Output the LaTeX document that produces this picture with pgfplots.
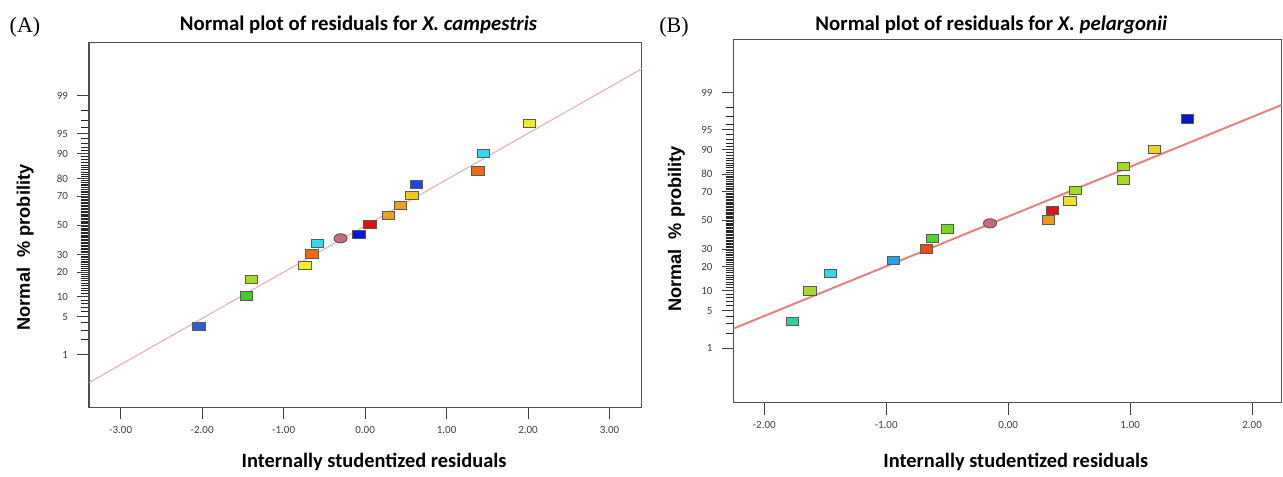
\documentclass[border=0pt]{standalone}
\usepackage{fontspec}
\setmainfont{Carlito}
\newfontfamily\arialfont{Liberation Sans}
\newfontfamily\seriffont{Liberation Serif}
\usepackage{pgfplots}
\usepackage{pgfplotstable}
\pgfplotsset{compat=1.18}

\pgfdeclareplotmark{rrect}{%
  \pgfsetcornersarced{\pgfpoint{1.3pt}{1.3pt}}%
  \pgfpathrectanglecorners{\pgfpoint{-3.1pt}{-2.1pt}}{\pgfpoint{3.1pt}{2.1pt}}%
  \pgfusepathqfillstroke}
\pgfdeclareplotmark{oval}{%
  \pgfpathellipse{\pgfpointorigin}{\pgfpoint{3.3pt}{0pt}}{\pgfpoint{0pt}{2.3pt}}%
  \pgfusepathqfillstroke}

\definecolor{cBlue}{HTML}{2A5FD8}
\definecolor{cDBlue}{HTML}{0818D8}
\definecolor{cMBlue}{HTML}{1848E0}
\definecolor{cGreen}{HTML}{3CCC2C}
\definecolor{cYG}{HTML}{A8D828}
\definecolor{cYellow}{HTML}{F0F020}
\definecolor{cOrRed}{HTML}{F06A10}
\definecolor{cCyan}{HTML}{30D8F0}
\definecolor{cPink}{HTML}{C86878}
\definecolor{cRed}{HTML}{E01010}
\definecolor{cOrange}{HTML}{F0A018}
\definecolor{cGold}{HTML}{F0C818}
\definecolor{cTeal}{HTML}{28D49A}
\definecolor{cSky}{HTML}{28A0E8}
\definecolor{cOrRed2}{HTML}{F04810}
\definecolor{cGreen2}{HTML}{50D828}
\definecolor{cGreen3}{HTML}{78D820}
\definecolor{cOrange2}{HTML}{F09818}
\definecolor{cYellow2}{HTML}{F0E028}
\definecolor{cYellow3}{HTML}{F0D020}
\definecolor{cGY}{HTML}{98E020}
\definecolor{cNavy}{HTML}{0818C8}
\definecolor{lineA}{HTML}{E8A8B0}
\definecolor{lineB}{HTML}{E88080}
\definecolor{frame}{HTML}{505050}

% x = internally studentized residual, z = normal quantile of the probability
\pgfplotstableread{
x z c
-2.040 -1.820 blue
-1.459 -1.269 green
-1.398 -0.969 yg
-0.740 -0.725 yellow
-0.654 -0.515 orred
-0.588 -0.323 cyan
-0.302 -0.233 pink
-0.077 -0.162 dblue
0.058 0.018 red
0.287 0.172 orange
0.434 0.352 orange
0.573 0.531 gold
0.631 0.736 mblue
1.383 0.974 orred
1.449 1.292 cyan
2.017 1.830 yellow
}\dataA

\pgfplotstableread{
x z c
-1.767 -1.835 teal
-1.625 -1.284 yg
-1.459 -0.969 cyan
-0.939 -0.727 sky
-0.668 -0.521 orredb
-0.622 -0.333 greenc
-0.499 -0.157 greenb
-0.149 -0.054 pink
0.332 0.007 orangeb
0.365 0.176 red
0.507 0.352 yellowc
0.550 0.539 gy
0.947 0.734 yg
0.947 0.976 yg
1.201 1.290 yellowb
1.468 1.843 navy
}\dataB

\tikzset{mk/.style={draw=black!65,line width=0.45pt}}

\pgfplotsset{
  npp/.style={
    scale only axis, anchor=south west, clip=true,
    axis line style={frame, line width=0.6pt},
    tick pos=left, tick align=outside,
    major tick style={color=black!75, line width=0.5pt},
    minor tick style={color=black!85, line width=0.5pt},
    major tick length=6pt, minor tick length=4pt,
    ytick={-2.3263,-1.6449,-1.2816,-0.8416,-0.5244,0,0.5244,0.8416,1.2816,1.6449,2.3263},
    yticklabels={1,5,10,20,30,50,70,80,90,95,99},
    minor ytick={-2.0537,-1.8808,-1.7507,-1.5548,-1.4758,-1.4051,-1.3408,
      -1.2265,-1.1750,-1.1264,-1.0803,-1.0364,-0.9945,-0.9542,-0.9154,-0.8779,
      -0.8064,-0.7722,-0.7388,-0.7063,-0.6745,-0.6433,-0.6128,-0.5828,-0.5534,
      -0.4959,-0.4677,-0.4399,-0.4125,-0.3853,-0.3585,-0.3319,-0.3055,-0.2793,-0.2533,
      -0.2275,-0.2019,-0.1764,-0.1510,-0.1257,-0.1004,-0.0753,-0.0502,-0.0251,
      0.0251,0.0502,0.0753,0.1004,0.1257,0.1510,0.1764,0.2019,0.2275,
      0.2533,0.2793,0.3055,0.3319,0.3585,0.3853,0.4125,0.4399,0.4677,0.4959,
      0.5534,0.5828,0.6128,0.6433,0.6745,0.7063,0.7388,0.7722,0.8064,
      0.8779,0.9154,0.9542,0.9945,1.0364,1.0803,1.1264,1.1750,1.2265,
      1.3408,1.4051,1.4758,1.5548,1.7507,1.8808,2.0537},
    ticklabel style={font=\fontsize{5.5}{6}\selectfont, text=black!75},
    yticklabel style={xshift=-1pt},
    scatter/classes={
      blue={mark=rrect,mk,fill=cBlue},
      dblue={mark=rrect,mk,fill=cDBlue},
      mblue={mark=rrect,mk,fill=cMBlue},
      green={mark=rrect,mk,fill=cGreen},
      greenc={mark=rrect,mk,fill=cGreen2},
      yg={mark=rrect,mk,fill=cYG},
      yellow={mark=rrect,mk,fill=cYellow},
      yellowc={mark=rrect,mk,fill=cYellow2},
      orred={mark=rrect,mk,fill=cOrRed},
      orredb={mark=rrect,mk,fill=cOrRed2},
      cyan={mark=rrect,mk,fill=cCyan},
      pink={mark=oval,mk,fill=cPink},
      red={mark=rrect,mk,fill=cRed},
      orange={mark=rrect,mk,fill=cOrange},
      orangeb={mark=rrect,mk,fill=cOrange2},
      gold={mark=rrect,mk,fill=cGold},
      teal={mark=rrect,mk,fill=cTeal},
      sky={mark=rrect,mk,fill=cSky},
      greenb={mark=rrect,mk,fill=cGreen3},
      gy={mark=rrect,mk,fill=cGY},
      yellowb={mark=rrect,mk,fill=cYellow3},
      navy={mark=rrect,mk,fill=cNavy}
    },
  }
}

\begin{document}
\begin{tikzpicture}
\begin{scope}[x=0.5pt,y=-0.5pt]
  \path[use as bounding box] (0,0) rectangle (1283,470);
\end{scope}

\begin{axis}[npp,
  at={(44.55pt,-203.65pt)}, width=276.35pt, height=182.3pt,
  xmin=-3.388, xmax=3.396, ymin=-3.266, ymax=3.277,
  xtick={-3,-2,-1,0,1,2,3},
  xticklabels={-3.00,-2.00,-1.00,0.00,1.00,2.00,3.00}]
  \addplot[no marks, color=lineA, line width=0.5pt] coordinates {(-3.39,-2.824) (3.40,2.812)};
  \addplot[scatter, only marks, scatter src=explicit symbolic]
    table[x=x, y=z, meta=c] {\dataA};
\end{axis}

\begin{axis}[npp,
  at={(366.75pt,-201.25pt)}, width=274pt, height=181.5pt,
  xmin=-2.252, xmax=2.241, ymin=-3.313, ymax=3.289,
  xtick={-2,-1,0,1,2},
  xticklabels={-2.00,-1.00,0.00,1.00,2.00}]
  \addplot[no marks, color=lineB, line width=1pt] coordinates {(-2.252,-1.968) (2.241,2.098)};
  \addplot[scatter, only marks, scatter src=explicit symbolic]
    table[x=x, y=z, meta=c] {\dataB};
\end{axis}

\begin{scope}[x=0.5pt,y=-0.5pt]
  \node[anchor=base, font=\seriffont\fontsize{11}{12}\selectfont] at (25,32) {(A)};
  \node[anchor=base, font=\bfseries\fontsize{10.4}{12}\selectfont] at (358.5,30) {Normal plot of residuals for \textit{X. campestris}};
  \node[anchor=base, font=\bfseries\fontsize{10.2}{12}\selectfont] at (374,467) {Internally studentized residuals};
  \node[anchor=base, rotate=90, font=\arialfont\bfseries\fontsize{9.1}{11}\selectfont] at (29.9,247.5) {Normal\ \ \% probility};

  \node[anchor=base, font=\seriffont\fontsize{11}{12}\selectfont] at (674,32) {(B)};
  \node[anchor=base, font=\bfseries\fontsize{10.4}{12}\selectfont] at (991.4,30) {Normal plot of residuals for \textit{X. pelargonii}};
  \node[anchor=base, font=\bfseries\fontsize{10.2}{12}\selectfont] at (1015.8,467) {Internally studentized residuals};
  \node[anchor=base, rotate=90, font=\arialfont\bfseries\fontsize{9.1}{11}\selectfont] at (681,229) {Normal\ \ \% probility};
\end{scope}
\end{tikzpicture}
\end{document}
